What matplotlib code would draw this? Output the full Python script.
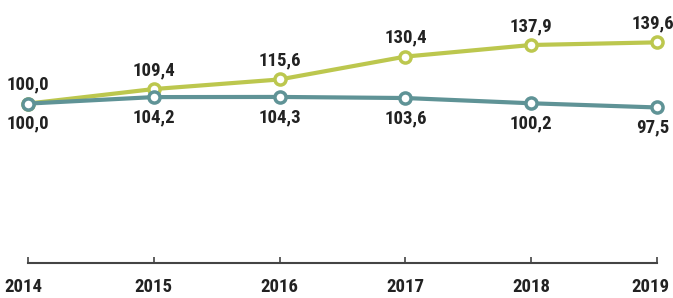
import matplotlib.pyplot as plt
from matplotlib.transforms import ScaledTranslation

years = ['2014', '2015', '2016', '2017', '2018', '2019']
upper = [100.0, 109.4, 115.6, 130.4, 137.9, 139.6]
lower = [100.0, 104.2, 104.3, 103.6, 100.2, 97.5]
upper_labels = ['100,0', '109,4', '115,6', '130,4', '137,9', '139,6']
lower_labels = ['100,0', '104,2', '104,3', '103,6', '100,2', '97,5']

font = ['Roboto Condensed', 'Open Sans Condensed', 'Liberation Sans Narrow', 'DejaVu Sans']
txt = dict(fontsize=13.5, fontweight='bold', family=font, fontstretch='condensed', color='#222222')
c_up = '#bcc74e'
c_lo = '#5f9396'

fig = plt.figure(figsize=(6.73, 2.98), dpi=100)
ax = fig.add_axes([28 / 673, 0.118, 629 / 673, 0.882])
x = list(range(len(years)))

ax.plot(x, upper, color=c_up, lw=3, marker='o', ms=8, mfc='white', mec=c_up, mew=2.5, zorder=3, clip_on=False)
ax.plot(x, lower, color=c_lo, lw=3, marker='o', ms=8, mfc='white', mec=c_lo, mew=2.5, zorder=4, clip_on=False)

for i in x:
    dx = -3 if i == len(years) - 1 else 0
    ax.annotate(upper_labels[i], (i, upper[i]), xytext=(dx, 7), textcoords='offset points',
                ha='center', va='bottom', **txt)
    ax.annotate(lower_labels[i], (i, lower[i]), xytext=(dx, -8), textcoords='offset points',
                ha='center', va='top', **txt)

ax.set_xlim(0, 5)
ax.set_ylim(-3, 167)
ax.set_xticks(x)
ax.set_xticklabels(years, **txt)
ax.set_yticks([])
for s in ['top', 'right', 'left']:
    ax.spines[s].set_visible(False)
ax.spines['bottom'].set_color('#444444')
ax.spines['bottom'].set_linewidth(1.5)
ax.tick_params(axis='x', direction='in', length=4, width=1.2, color='#444444', pad=11)

# keep the outer year labels inside the canvas
labels = ax.get_xticklabels()
labels[-1].set_transform(labels[-1].get_transform() + ScaledTranslation(-5 / 72, 0, fig.dpi_scale_trans))
labels[0].set_transform(labels[0].get_transform() + ScaledTranslation(-3 / 72, 0, fig.dpi_scale_trans))

fig.savefig('out.png', dpi=100)
